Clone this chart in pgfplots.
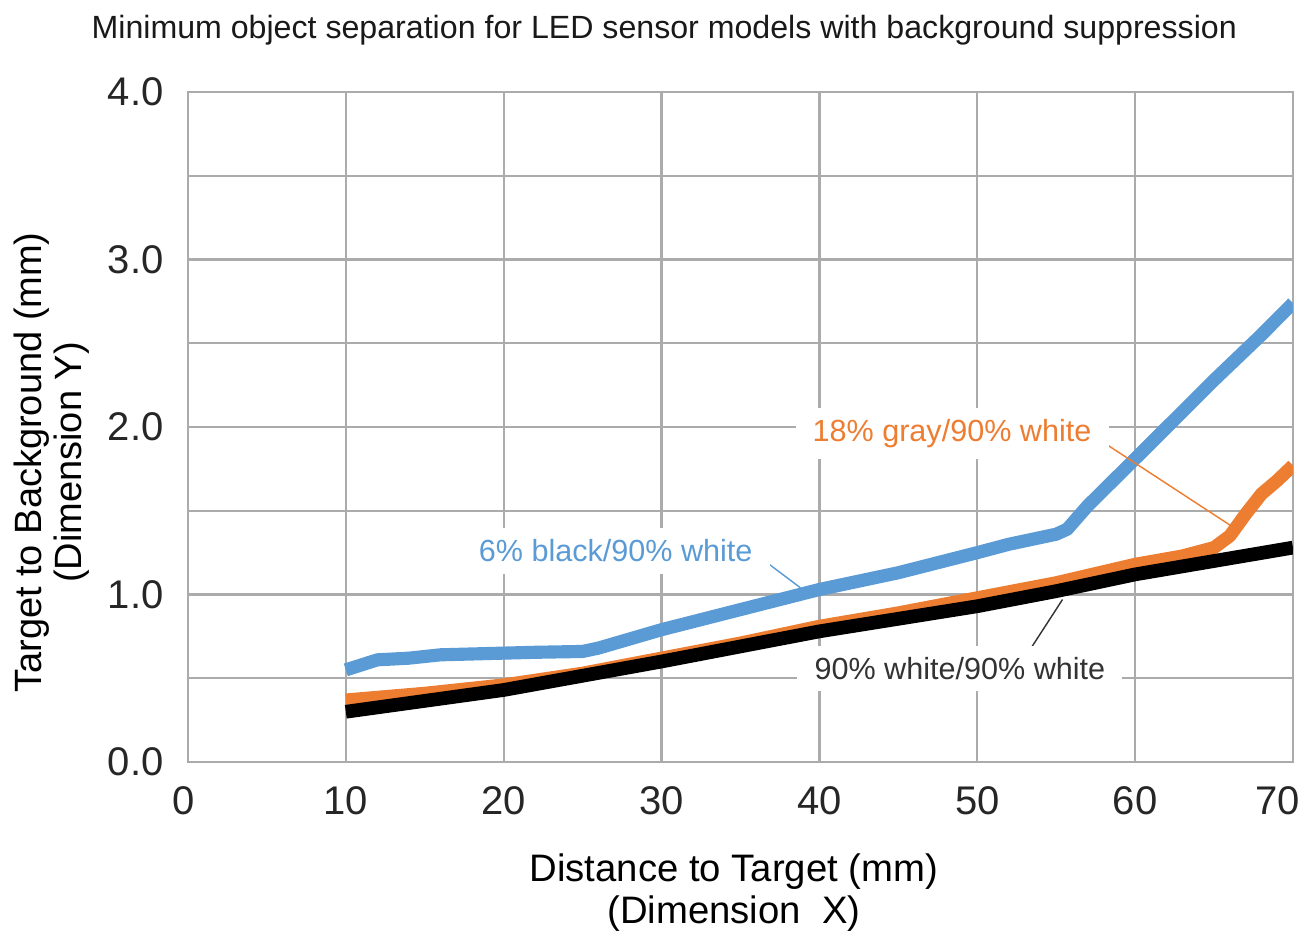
\documentclass[border=0pt]{standalone}
\usepackage{pgfplots}
\pgfplotsset{compat=1.18}
\usepackage{fontspec}
\setmainfont{Liberation Sans}
\definecolor{xlblue}{HTML}{5B9BD5}
\definecolor{xlorange}{HTML}{ED7D31}
\definecolor{gridgray}{HTML}{ABABAB}
\begin{document}
\begin{tikzpicture}
\begin{axis}[
    scale only axis,
    width=386.75pt, height=234.5pt,
    xmin=0, xmax=70, ymin=0, ymax=4,
    xtick={0,10,...,70},
    xticklabels={{\hspace*{-3pt}0},10,20,30,40,50,60,{\hspace*{-10.5pt}70}},
    ytick={0,1,2,3,4},
    minor ytick={0.5,1.5,2.5,3.5},
    grid=both,
    major grid style={gridgray, line width=0.8pt},
    minor grid style={gridgray, line width=0.8pt},
    axis line style={gridgray, line width=0.8pt},
    major tick length=0pt, minor tick length=0pt,
    /pgf/number format/assume math mode=true,
    tick label style={font=\fontsize{14}{16}\selectfont, text=black!85},
    xticklabel style={yshift=-5pt, inner xsep=0pt},
    yticklabel style={xshift=-5pt, /pgf/number format/.cd, fixed, fixed zerofill, precision=1},
    title={Minimum object separation for LED sensor models with background suppression},
    title style={at={(rel axis cs:0.431,1.0925)}, anchor=center, yshift=-6pt,
        font=\fontsize{11.25}{13}\selectfont, text=black!90},
    xlabel={Distance to Target (mm)\\(Dimension\ \ X)},
    xlabel style={at={(rel axis cs:0.494,-0.195)}, anchor=center, align=center,
        font=\fontsize{13.4}{14.7}\selectfont},
    ylabel={Target to Background (mm)\\(Dimension Y)},
    ylabel style={at={(rel axis cs:-0.1235,0.447)}, anchor=center, align=center,
        font=\fontsize{13.3}{14}\selectfont},
]

% 6% black / 90% white
\addplot[xlblue, line width=4.6pt, line join=round] coordinates {
(10,0.55) (11,0.58) (12,0.61) (14,0.62) (16,0.64) (20,0.65) (22,0.655) (25,0.66)
(26,0.68) (30,0.79) (35,0.91) (40,1.03) (45,1.13) (50,1.25) (52,1.30) (55,1.36)
(55.7,1.39) (57,1.53) (60,1.81) (65,2.28) (68,2.55) (70,2.74)
};

% 18% gray / 90% white
\addplot[xlorange, line width=4.6pt, line join=round] coordinates {
(10,0.37) (15,0.41) (20,0.46) (25,0.53) (30,0.62) (35,0.71) (40,0.81) (45,0.89)
(50,0.98) (55,1.07) (60,1.18) (63,1.23) (65,1.28) (66,1.35) (67,1.48) (68,1.60)
(69,1.68) (70,1.77)
};

% 90% white / 90% white
\addplot[black, line width=4.8pt, line join=round] coordinates {
(10,0.30) (20,0.43) (30,0.60) (40,0.78) (50,0.93) (55,1.02) (60,1.12) (65,1.20) (70,1.28)
};

\draw[xlblue, line width=0.5pt] (axis cs:36.4,1.21) -- (axis cs:38.8,1.04);
\draw[xlorange, line width=0.5pt] (axis cs:57.8,1.92) -- (axis cs:66.0,1.415);
\draw[black!80, line width=0.5pt] (axis cs:53.2,0.65) -- (axis cs:55.4,0.97);

\node[fill=white, text=xlblue, inner xsep=6pt, inner ysep=4pt,
    font=\fontsize{10.7}{12}\selectfont] at (axis cs:27.1,1.26) {6\% black/90\% white};
\node[fill=white, text=xlorange, inner xsep=6pt, inner ysep=4pt,
    font=\fontsize{10.7}{12}\selectfont] at (axis cs:48.4,1.96) {18\% gray/90\% white};
\node[fill=white, text=black!80, inner xsep=6pt, inner ysep=4pt,
    font=\fontsize{10.7}{12}\selectfont] at (axis cs:48.9,0.56) {90\% white/90\% white};

% page frame of the reference
\coordinate (framebl) at (rel axis cs:-0.1701,-0.2552);
\coordinate (frametr) at (rel axis cs:1.0127,1.1373);
\end{axis}
\path (framebl) rectangle (frametr);
\end{tikzpicture}
\end{document}
